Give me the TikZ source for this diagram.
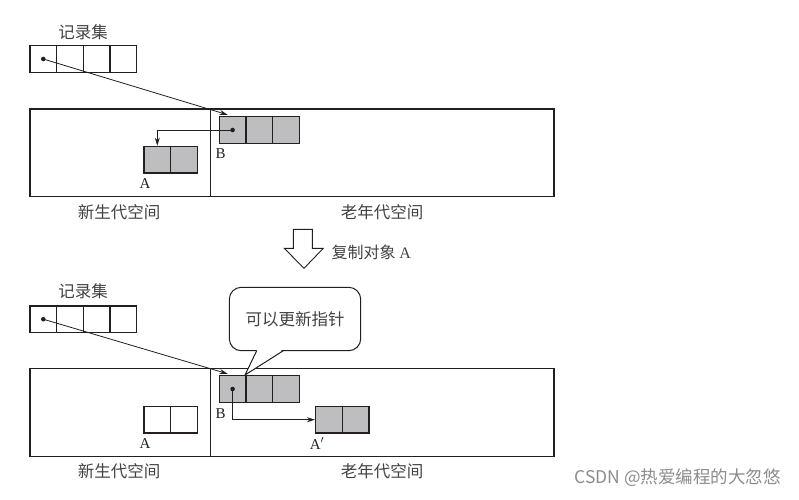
\documentclass[tikz,border=0pt]{standalone}
\usepackage{fontspec}
\setmainfont{Liberation Serif}
\newfontfamily\cjk{Noto Sans CJK SC}
\usetikzlibrary{arrows.meta,calc}
\definecolor{ink}{HTML}{231F20}
\definecolor{boxgray}{HTML}{BEBEC0}
\tikzset{
  cell/.style={draw=ink, line width=1.4pt, minimum width=26.7pt, minimum height=26.7pt, inner sep=0pt},
  gcell/.style={cell, fill=boxgray},
  region/.style={draw=ink, line width=1.2pt},
  ptr/.style={draw=ink, line width=0.8pt, -{Stealth[length=8pt,width=5pt]}},
  dot/.style={circle, fill=ink, inner sep=0pt, minimum size=4.6pt},
  cjklbl/.style={font=\cjk\fontsize{16.5}{19}\selectfont, text=ink!85, inner sep=0pt},
  letter/.style={font=\fontsize{15}{17}\selectfont, text=ink, inner sep=0pt},
}
\begin{document}
\begin{tikzpicture}[x=1pt,y=-1pt]
\useasboundingbox (0,0) rectangle (799,499);
% ---------- top panel ----------
\node[cjklbl] (rsT) at (83,32) {记录集};
\node[cell] (r1) at (43.3,59) {};
\node[cell] (r2) at (70,59) {};
\node[cell] (r3) at (96.7,59) {};
\node[cell] (r4) at (123.3,59) {};
\draw[region] (30,109) rectangle (554,196.7);
\draw[region] (210.7,109) -- (210.7,196.7);
\node[gcell] (b1) at (232.6,130) {};
\node[gcell] (b2) at (259.3,130) {};
\node[gcell] (b3) at (286,130) {};
\node[gcell] (a1) at (157.3,159.7) {};
\node[gcell] (a2) at (184,159.7) {};
\node[letter] (lbA) at (145,184) {A};
\node[letter] (lbB) at (220.5,154) {B};
\node[cjklbl] (ny) at (119,212) {新生代空间};
\node[cjklbl] (ol) at (382,212) {老年代空间};
\node[dot] (d1) at (r1.center) {};
\node[dot] (d2) at (b1.center) {};
\coordinate (t1) at ($(b1.north west)+(9,-1.2)$);
\draw[ptr] (d1.center) -- (t1);
\draw[ptr] (d2.center) -| (a1.north);
% ---------- transition arrow ----------
\draw[ink, line width=0.9pt, fill=white] (293.3,229.3) -- (312.3,229.3) -- (312.3,248.3) -- (323.3,248.3) -- (304,268.3) -- (284.3,248.3) -- (293.3,248.3) -- cycle;
\node[font=\cjk\fontsize{16}{19}\selectfont, text=ink!85, anchor=west, inner sep=0pt] (cp) at (331.5,252) {复制对象 \rmfamily A};
% ---------- bottom panel ----------
\node[cjklbl] (rsB) at (83,291.5) {记录集};
\node[cell] (s1) at (43.3,319.2) {};
\node[cell] (s2) at (70,319.2) {};
\node[cell] (s3) at (96.7,319.2) {};
\node[cell] (s4) at (123.3,319.2) {};
\draw[region] (30,368.3) rectangle (554,456.7);
\draw[region] (210.7,368.3) -- (210.7,456.7);
\node[gcell] (c1) at (232.6,389) {};
\node[gcell] (c2) at (259.3,389) {};
\node[gcell] (c3) at (286,389) {};
\node[cell] (e1) at (157.3,419.7) {};
\node[cell] (e2) at (184,419.7) {};
\node[gcell] (p1) at (329,419.7) {};
\node[gcell] (p2) at (355.7,419.7) {};
\node[letter] (lbA2) at (145,443.5) {A};
\node[letter] (lbB2) at (220.5,413.3) {B};
\node[letter] (lbAp) at (317,443.5) {A$'$};
\node[cjklbl] (ny2) at (119,471.5) {新生代空间};
\node[cjklbl] (ol2) at (382,471.5) {老年代空间};
\node[dot] (d3) at (s1.center) {};
\node[dot] (d4) at (c1.center) {};
\coordinate (t2) at ($(c1.north west)+(9,-1.2)$);
\draw[ptr] (d3.center) -- (t2);
\draw[ptr] (d4.center) |- (p1.west);
% callout
\node[draw=ink, line width=1pt, rounded corners=12pt, fill=white, minimum width=131.4pt, minimum height=63.4pt, cjklbl] (call) at (295,319) {可以更新指针};
\coordinate (tip) at (245,375);
\fill[white] (257.2,349.5) -- (tip) -- (282.8,349.5) -- cycle;
\draw[ink, line width=1pt] (256.7,350.7) -- (tip) -- (283.3,350.7);
% watermark
\node[font=\cjk\fontsize{17.5}{20}\selectfont, text=black!45, anchor=east, inner sep=0pt] (wm) at (781,478) {CSDN @热爱编程的大忽悠};
\end{tikzpicture}
\end{document}
